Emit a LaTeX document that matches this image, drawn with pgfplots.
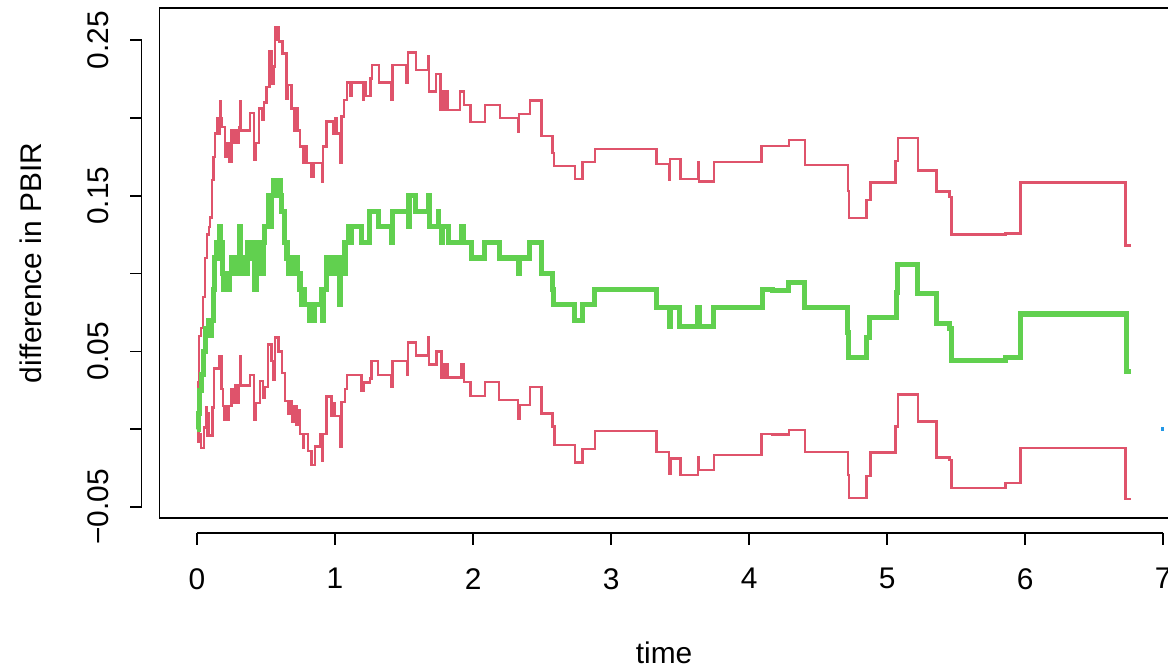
\documentclass[border=0pt]{standalone}
\usepackage{fontspec}
\setmainfont{Liberation Sans}
\usepackage{pgfplots}
\pgfplotsset{compat=1.18}
\definecolor{rred}{HTML}{DF536B}
\definecolor{rgreen}{HTML}{61D04F}
\definecolor{rblue}{HTML}{2297E6}
\newcommand{\lbl}{\fontsize{8.5}{10}\selectfont}

\begin{document}
\begin{tikzpicture}
\begin{axis}[
	name=ax,
	scale only axis,
	width=10.09cm, height=5.10cm,
	xmin=-0.271, xmax=7.039,
	ymin=-0.057, ymax=0.2706,
	clip=false,
	axis line style={line width=0.45pt},
	major tick length=0pt,
	xtick={0,1,2,3,4,5,6,7},
	xticklabels={0,1,2,3,4,5,6,7},
	ytick={-0.05,0.05,0.15,0.25},
	yticklabels={−0.05,0.05,0.15,0.25},
	tick label style={font=\lbl},
	xticklabel style={anchor=north, yshift=-0.38cm},
	yticklabel style={rotate=90, anchor=south, yshift=0.38cm},
	xlabel={time},
	ylabel={difference in PBIR},
	label style={font=\lbl},
	x label style={at={(axis description cs:0.5,-0.265)}, anchor=center},
	y label style={at={(axis description cs:-0.128,0.5)}, anchor=center},
]
% upper band
\addplot[const plot, rred, line width=0.7pt] coordinates {
(0,0.0) (0.007,0.030) (0.0145,0.060) (0.029,0.065) (0.043,0.085) (0.058,0.110)
(0.072,0.125) (0.087,0.130) (0.094,0.136) (0.109,0.160) (0.119,0.175) (0.130,0.190)
(0.145,0.200) (0.156,0.190) (0.167,0.211) (0.172,0.200) (0.179,0.194) (0.203,0.175)
(0.217,0.184) (0.232,0.172) (0.251,0.192) (0.264,0.184) (0.275,0.192) (0.290,0.184)
(0.304,0.194) (0.311,0.211) (0.317,0.192) (0.384,0.203) (0.413,0.173) (0.425,0.184)
(0.451,0.206) (0.469,0.199) (0.485,0.210) (0.505,0.220) (0.524,0.2425) (0.541,0.222)
(0.554,0.233) (0.565,0.2585) (0.579,0.250) (0.590,0.2585) (0.596,0.249) (0.621,0.2415)
(0.650,0.212) (0.661,0.221) (0.686,0.206) (0.702,0.192) (0.717,0.206) (0.731,0.192)
(0.746,0.1816) (0.770,0.171) (0.782,0.182) (0.793,0.171) (0.831,0.162) (0.847,0.171)
(0.910,0.159) (0.914,0.1816) (0.939,0.1976) (0.987,0.190) (0.999,0.200) (1.012,0.190)
(1.041,0.171) (1.048,0.201) (1.064,0.2115) (1.088,0.2226) (1.108,0.214) (1.120,0.2226)
(1.204,0.2115) (1.209,0.2226) (1.224,0.214) (1.258,0.2254) (1.269,0.234) (1.320,0.2226)
(1.410,0.2115) (1.417,0.234) (1.518,0.2226) (1.530,0.2419) (1.586,0.2308) (1.675,0.2393)
(1.680,0.2169) (1.731,0.2282) (1.765,0.2051) (1.774,0.2169) (1.784,0.2051) (1.799,0.2169)
(1.815,0.2051) (1.904,0.2169) (1.936,0.2083) (1.982,0.1972) (2.085,0.2083) (2.194,0.1998)
(2.327,0.1912) (2.332,0.2024) (2.411,0.2111) (2.496,0.1885) (2.576,0.1774) (2.585,0.1692)
(2.737,0.1607) (2.793,0.1718) (2.882,0.1799) (3.329,0.1703) (3.420,0.160) (3.425,0.1735)
(3.503,0.1607) (3.630,0.1718) (3.637,0.159) (3.744,0.1718) (4.089,0.182) (4.289,0.1857)
(4.403,0.1699) (4.715,0.1532) (4.723,0.1357) (4.849,0.1472) (4.878,0.1585) (5.061,0.1722)
(5.078,0.187) (5.223,0.1662) (5.356,0.1528) (5.453,0.1492) (5.467,0.125) (5.858,0.1256)
(5.967,0.1585) (6.727,0.118) (6.768,0.118)
};
% lower band
\addplot[const plot, rred, line width=0.7pt] coordinates {
(0,0.000) (0.010,-0.008) (0.020,-0.003) (0.030,-0.012) (0.050,0.001) (0.065,0.014)
(0.072,-0.004) (0.080,0.010) (0.087,-0.004) (0.112,0.014) (0.125,0.039) (0.161,0.047)
(0.178,0.026) (0.190,0.015) (0.200,0.006) (0.210,0.015) (0.220,0.006) (0.232,0.015)
(0.251,0.026) (0.264,0.017) (0.275,0.028) (0.290,0.017) (0.304,0.028) (0.311,0.047)
(0.317,0.028) (0.384,0.035) (0.413,0.006) (0.425,0.017) (0.456,0.031) (0.478,0.020)
(0.492,0.027) (0.516,0.0545) (0.541,0.044) (0.553,0.032) (0.565,0.0588) (0.590,0.050)
(0.614,0.036) (0.637,0.018) (0.661,0.010) (0.675,0.018) (0.690,0.005) (0.705,0.015)
(0.720,0.003) (0.735,0.012) (0.746,-0.003) (0.768,-0.012) (0.772,-0.003) (0.806,-0.014)
(0.831,-0.023) (0.854,-0.011) (0.896,-0.003) (0.901,-0.011) (0.910,-0.020) (0.914,-0.003)
(0.939,0.021) (0.975,0.0085) (0.985,0.017) (0.999,0.0085) (1.041,-0.011) (1.048,0.0175)
(1.072,0.026) (1.088,0.035) (1.193,0.0245) (1.209,0.030) (1.253,0.0325) (1.265,0.044)
(1.313,0.035) (1.410,0.027) (1.416,0.044) (1.520,0.035) (1.530,0.0556) (1.586,0.0474)
(1.675,0.0588) (1.682,0.0417) (1.735,0.0498) (1.772,0.0331) (1.784,0.0417) (1.800,0.0331)
(1.810,0.0417) (1.820,0.0331) (1.916,0.0417) (1.933,0.0303) (1.982,0.0214) (2.085,0.0303)
(2.189,0.0188) (2.327,0.0069) (2.335,0.0156) (2.411,0.0271) (2.496,0.0101) (2.576,0.0017)
(2.590,-0.010) (2.737,-0.0214) (2.793,-0.0128) (2.882,-0.0013) (3.329,-0.0145) (3.420,-0.0288)
(3.429,-0.0188) (3.503,-0.0295) (3.630,-0.018) (3.637,-0.0263) (3.744,-0.0167) (4.089,-0.0030)
(4.171,-0.0035) (4.289,-0.0004) (4.403,-0.0145) (4.715,-0.0295) (4.723,-0.0442) (4.849,-0.030)
(4.878,-0.015) (5.061,0.0017) (5.078,0.0222) (5.223,0.0049) (5.356,-0.0182) (5.453,-0.0197)
(5.467,-0.0378) (5.858,-0.0346) (5.967,-0.0122) (6.727,-0.0449) (6.768,-0.0449)
};
% estimate
\addplot[const plot, rgreen, line width=1.45pt] coordinates {
(0,0) (0.010,0.010) (0.020,0.025) (0.035,0.035) (0.050,0.050) (0.060,0.065)
(0.075,0.060) (0.085,0.070) (0.095,0.060) (0.106,0.070) (0.118,0.090) (0.130,0.110)
(0.143,0.120) (0.152,0.110) (0.165,0.130) (0.172,0.120) (0.181,0.110) (0.188,0.100)
(0.195,0.090) (0.203,0.100) (0.210,0.090) (0.217,0.100) (0.225,0.090) (0.232,0.100)
(0.251,0.110) (0.260,0.100) (0.268,0.110) (0.282,0.100) (0.297,0.110) (0.311,0.130)
(0.317,0.110) (0.330,0.100) (0.340,0.110) (0.355,0.100) (0.369,0.120) (0.384,0.110)
(0.398,0.120) (0.420,0.090) (0.431,0.110) (0.442,0.100) (0.456,0.120) (0.471,0.100)
(0.480,0.120) (0.492,0.130) (0.516,0.150) (0.529,0.130) (0.543,0.150) (0.558,0.160)
(0.601,0.150) (0.615,0.140) (0.637,0.120) (0.652,0.110) (0.665,0.100) (0.680,0.110)
(0.700,0.100) (0.717,0.110) (0.731,0.100) (0.746,0.090) (0.756,0.080) (0.765,0.090)
(0.782,0.080) (0.818,0.070) (0.833,0.080) (0.840,0.070) (0.854,0.080) (0.903,0.090)
(0.910,0.070) (0.915,0.090) (0.939,0.110) (0.955,0.100) (0.970,0.110) (0.985,0.100)
(1.007,0.110) (1.030,0.080) (1.038,0.100) (1.072,0.120) (1.096,0.130) (1.110,0.120)
(1.120,0.130) (1.193,0.120) (1.253,0.140) (1.313,0.130) (1.410,0.120) (1.416,0.140)
(1.530,0.130) (1.536,0.150) (1.586,0.140) (1.675,0.150) (1.682,0.130) (1.747,0.140)
(1.752,0.130) (1.772,0.120) (1.781,0.130) (1.820,0.120) (1.917,0.130) (1.930,0.120)
(1.989,0.110) (2.085,0.120) (2.189,0.110) (2.327,0.100) (2.335,0.110) (2.406,0.120)
(2.496,0.100) (2.576,0.090) (2.585,0.080) (2.737,0.070) (2.793,0.080) (2.882,0.090)
(3.329,0.078) (3.425,0.066) (3.432,0.078) (3.497,0.066) (3.630,0.078) (3.637,0.066)
(3.744,0.078) (4.096,0.090) (4.171,0.089) (4.287,0.094) (4.403,0.078) (4.715,0.062)
(4.723,0.046) (4.849,0.059) (4.873,0.072) (5.067,0.088) (5.078,0.106) (5.223,0.087)
(5.356,0.068) (5.453,0.065) (5.465,0.044) (5.856,0.046) (5.964,0.074) (6.732,0.037)
(6.768,0.037)
};
\addplot[only marks, mark=square*, mark size=0.35pt, rblue] coordinates {(6.995,0)};

% R-style detached axes
\draw[line width=0.45pt] ([yshift=-0.15cm]axis cs:0,-0.057) -- ([yshift=-0.15cm]axis cs:7,-0.057);
\pgfplotsinvokeforeach{0,1,2,3,4,5,6,7}{
	\draw[line width=0.45pt] ([yshift=-0.15cm]axis cs:#1,-0.057) -- ([yshift=-0.27cm]axis cs:#1,-0.057);
}
\draw[line width=0.45pt] ([xshift=-0.18cm]axis cs:-0.271,-0.05) -- ([xshift=-0.18cm]axis cs:-0.271,0.25);
\pgfplotsinvokeforeach{-0.05,0,0.05,0.1,0.15,0.2,0.25}{
	\draw[line width=0.45pt] ([xshift=-0.18cm]axis cs:-0.271,#1) -- ([xshift=-0.30cm]axis cs:-0.271,#1);
}
\end{axis}
\pgfresetboundingbox
\path ([xshift=-1.596cm,yshift=-1.50cm]ax.south west) rectangle ([xshift=10.084cm,yshift=5.18cm]ax.south west);
\end{tikzpicture}
\end{document}
